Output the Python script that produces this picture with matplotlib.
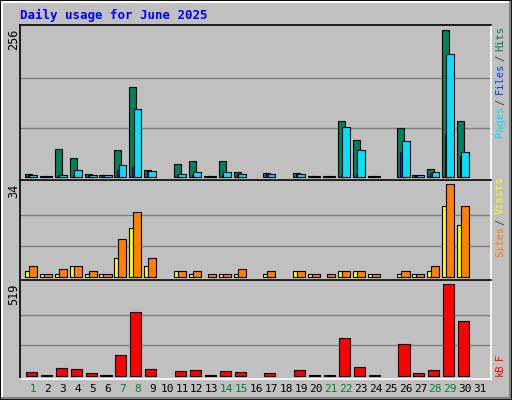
import matplotlib
matplotlib.use("Agg")
import matplotlib.pyplot as plt
from matplotlib.patches import Rectangle

days = list(range(1, 32))
hits  = [6,2,49,33,6,4,47,155,13,0,23,28,2,27,9,0,7,0,7,2,2,97,65,2,0,85,4,14,255,97,0]
files = [6,0,4,4,4,3,13,18,10,0,4,3,0,3,6,0,7,0,7,0,0,4,4,0,0,44,3,7,75,37,0]
pages = [4,2,4,13,4,3,21,118,10,0,6,9,2,9,6,0,6,0,6,2,2,87,47,2,0,63,3,9,212,44,0]
sites = [2,1,1,4,1,1,7,18,4,0,2,1,0,1,1,0,1,0,2,1,0,2,2,1,0,1,1,2,26,19,0]
visits= [4,1,3,4,2,1,14,24,7,0,2,2,1,1,3,0,2,0,2,1,1,2,2,1,0,2,1,4,34,26,0]
kbytes= [19,4,42,36,13,4,116,360,36,0,25,30,4,25,19,0,13,0,30,4,4,212,47,4,0,178,13,30,519,309,0]
weekend = [1,7,8,14,15,21,22,28,29]

BG = "#C0C0C0"
fig = plt.figure(figsize=(5.12, 4.0), dpi=100, facecolor=BG)
mono = "DejaVu Sans Mono"

fig.patches.append(Rectangle((0, 0), 1, 1, transform=fig.transFigure, fill=False, ec="black", lw=2))
fig.add_artist(plt.Line2D([2/512, 2/512], [2/400, 398/400], color="white", lw=1.5, transform=fig.transFigure))
fig.add_artist(plt.Line2D([2/512, 510/512], [398/400, 398/400], color="white", lw=1.5, transform=fig.transFigure))
fig.add_artist(plt.Line2D([510/512, 510/512], [2/400, 398/400], color="#808080", lw=1.5, transform=fig.transFigure))
fig.add_artist(plt.Line2D([2/512, 510/512], [2/400, 2/400], color="#808080", lw=1.5, transform=fig.transFigure))

def px_axes(top, bottom):
    return fig.add_axes([20/512, 1 - bottom/400, 471/512, (bottom - top)/400])

def style(ax, ymax, ylo, yhi):
    ax.set_facecolor(BG)
    ax.set_xlim(0.128, 31.74)
    ax.set_ylim(ylo, yhi)
    for v in (ymax/3, 2*ymax/3):
        ax.axhline(v, color="#808080", lw=1, zorder=0)
    ax.spines["top"].set_color("black"); ax.spines["left"].set_color("black")
    ax.spines["bottom"].set_color("white"); ax.spines["right"].set_color("white")
    for s in ax.spines.values():
        s.set_linewidth(1.2)
    ax.set_xticks([]); ax.set_yticks([])

def bars(ax, vals, off0, off1, color):
    x = [d + off0 for d, v in zip(days, vals) if v > 0]
    h = [v for v in vals if v > 0]
    ax.bar(x, h, width=off1 - off0, align="edge", color=color, ec="black", lw=0.8, zorder=2)

ax1 = px_axes(25, 180)
style(ax1, 256, -5, 263)
bars(ax1, hits, -0.54, -0.07, "#00805C")
bars(ax1, files, -0.34, -0.2, "#0040FF")
bars(ax1, pages, -0.25, 0.27, "#00E0FF")

ax2 = px_axes(180, 280)
style(ax2, 34, -1.2, 35.6)
bars(ax2, sites, -0.54, -0.27, "#FFFF00")
bars(ax2, visits, -0.27, 0.27, "#FF8000")

ax3 = px_axes(280, 379)
style(ax3, 519, -18.8, 543.4)
bars(ax3, kbytes, -0.47, 0.27, "#FF0000")

fig.text(20/512, 1 - 15/400, "Daily usage for June 2025", color="#0000FF",
         fontsize=9, fontweight="bold", family=mono, va="center", ha="left")

for lbl, top in (("256", 29), ("34", 184), ("519", 284)):
    fig.text(14/512, 1 - top/400, lbl, rotation=90, fontsize=8.5, family=mono,
             ha="center", va="top", color="black")

CH = 5.4
def right_label(parts, bottom_px):
    y = bottom_px
    for txt, col in parts:
        fig.text(500/512, 1 - y/400, txt, rotation=90, fontsize=7.5, family=mono,
                 ha="center", va="bottom", color=col)
        y -= (len(txt) + 1) * CH

right_label([("Pages", "#00E0FF"), ("/", "#404040"), ("Files", "#0040FF"),
             ("/", "#404040"), ("Hits", "#00805C")], 137)
right_label([("Sites", "#FF8000"), ("/", "#404040"), ("Visits", "#FFFF00")], 257)
right_label([("kB", "#FF0000"), ("F", "#FF0000")], 376)

for d in days:
    x = (33 + 14.9 * (d - 1)) / 512
    fig.text(x, 1 - 389/400, str(d), fontsize=8, family=mono, ha="center", va="center",
             color="#008040" if d in weekend else "black")

fig.savefig("out.png", dpi=100, facecolor=BG)
